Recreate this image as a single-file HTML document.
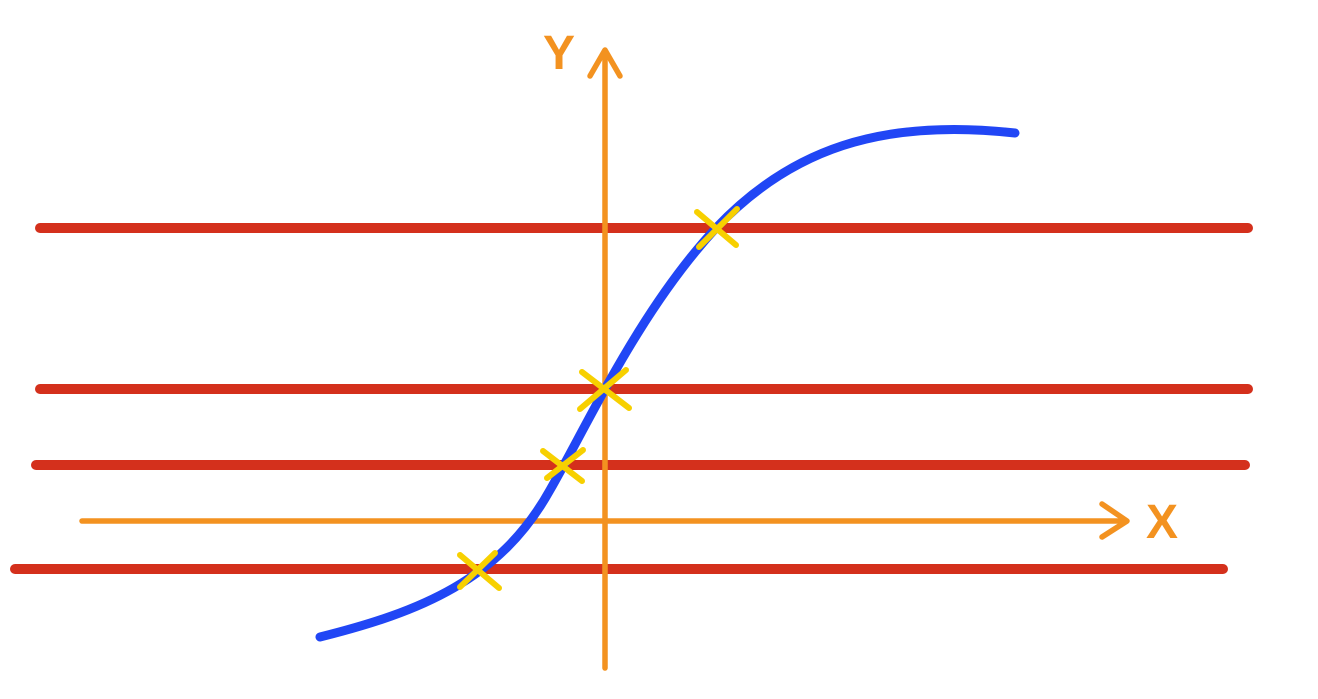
<!DOCTYPE html>
<html><head><meta charset="utf-8"><style>
html,body{margin:0;padding:0;background:#fff;width:1318px;height:699px;overflow:hidden}
</style></head><body>
<svg width="1318" height="699" viewBox="0 0 1318 699" xmlns="http://www.w3.org/2000/svg">
<g stroke="#d4301c" stroke-width="10" stroke-linecap="round" fill="none">
<line x1="40" y1="228" x2="1248" y2="228"/>
<line x1="40" y1="389" x2="1248" y2="389"/>
<line x1="36" y1="465" x2="1245" y2="465"/>
<line x1="15" y1="569" x2="1223" y2="569"/>
</g>
<g stroke="#f39220" stroke-width="5.5" stroke-linecap="round" stroke-linejoin="round" fill="none">
<line x1="82" y1="521" x2="1126" y2="521"/>
<polyline points="1102,504 1127,521 1102,537"/>
<line x1="605" y1="668" x2="605" y2="52"/>
<polyline points="590,76 605,50 620,76"/>
</g>
<g fill="#f39220" font-family="Liberation Sans, sans-serif" font-weight="bold" font-size="48">
<text x="543" y="69">Y</text>
<text x="1146" y="538">X</text>
</g>
<path d="M320,637 C420,612 500,580 550,490 C590,420 640,310 716,228 C790,150 880,118 1015,133" stroke="#2146f5" stroke-width="9" stroke-linecap="round" fill="none"/>
<g stroke="#f7d000" stroke-width="6" stroke-linecap="round" fill="none">
<line x1="697" y1="212" x2="736" y2="245"/><line x1="737" y1="209" x2="699" y2="247"/>
<line x1="582" y1="372" x2="629" y2="408"/><line x1="626" y1="370" x2="580" y2="409"/>
<line x1="543" y1="451" x2="582" y2="481"/><line x1="583" y1="450" x2="547" y2="478"/>
<line x1="460" y1="555" x2="499" y2="588"/><line x1="495" y1="553" x2="460" y2="587"/>
</g>
</svg>
</body></html>
